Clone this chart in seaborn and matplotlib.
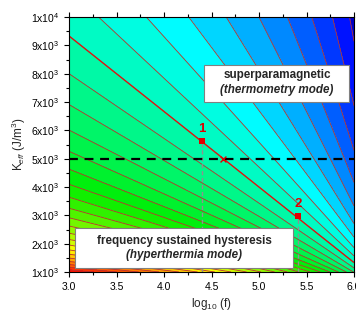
import numpy as np
import matplotlib
matplotlib.use("Agg")
import matplotlib.pyplot as plt
import seaborn as sns
import pandas as pd
from matplotlib.colors import LinearSegmentedColormap, Normalize
from matplotlib.patches import Rectangle

# axes ranges
log_f_lim = [3.0, 6.0]
k_eff_lim = [1e3, 1e4]

# diameter map : contours are straight lines converging at log10(f0)
log_f0 = 6.5
diam_scale = 400.0
diam_levels = [10, 11, 12, 13, 14, 15, 16, 17, 18, 19, 20, 21, 22, 23, 24, 25,
               26, 27, 28, 29, 30, 31, 32, 33, 34, 35, 36, 37, 38, 39, 40]
highlight_level = 19

# marked samples
point_logf = [4.40, 5.41]
point_k = [5620, 2970]
point_names = ["1", "2"]
cross_logf = [4.62]
cross_k = [5000]
threshold_k = 5000

x_ticks = [3.0, 3.5, 4.0, 4.5, 5.0, 5.5, 6.0]
x_ticklabels = ["3.0", "3.5", "4.0", "4.5", "5.0", "5.5", "6.0"]
y_ticks = [1e3, 2e3, 3e3, 4e3, 5e3, 6e3, 7e3, 8e3, 9e3, 1e4]
y_ticklabels = [r"1x10$^3$", r"2x10$^3$", r"3x10$^3$", r"4x10$^3$", r"5x10$^3$",
                r"6x10$^3$", r"7x10$^3$", r"8x10$^3$", r"9x10$^3$", r"1x10$^4$"]

sns.set_style("ticks")
plt.rcParams["font.family"] = ["Liberation Sans", "DejaVu Sans"]
plt.rcParams["mathtext.fontset"] = "custom"
plt.rcParams["mathtext.rm"] = "Liberation Sans"
plt.rcParams["mathtext.it"] = "Liberation Sans:italic"
plt.rcParams["mathtext.bf"] = "Liberation Sans:bold"

fig = plt.figure(figsize=(3.56, 3.11), dpi=100)
ax = fig.add_axes([69 / 356, 1 - 272 / 311, (354 - 69) / 356, (272 - 17) / 311])

# field on a grid
xg = np.linspace(log_f_lim[0], log_f_lim[1], 500)
kg = np.linspace(k_eff_lim[0], k_eff_lim[1], 500)
X, K = np.meshgrid(xg, kg)
D = diam_scale * ((log_f0 - X) / ((log_f0 - log_f_lim[0]) * K)) ** (1 / 3)

span = 40 - 9
cmap = LinearSegmentedColormap.from_list("rainbow_origin", [
    (0.0, "#0000c8"),
    ((10 - 9) / span, "#0000ff"),
    ((16.5 - 9) / span, "#00ffff"),
    ((25 - 9) / span, "#00ee00"),
    ((33 - 9) / span, "#ffff00"),
    (1.0, "#ff0000"),
])
norm = Normalize(9, 40)

ax.contourf(X, K, D, levels=[0] + diam_levels + [100], cmap=cmap, norm=norm)
thin = [l for l in diam_levels if l != highlight_level]
ax.contour(X, K, D, levels=thin, colors="#b83232", linewidths=0.6)
ax.contour(X, K, D, levels=[highlight_level], colors="#e01010", linewidths=1.0)

# threshold line
ax.axhline(threshold_k, color="black", lw=1.6, ls=(0, (4, 3)), zorder=4)

# guide lines from the samples down to the axis
ax.vlines(point_logf, k_eff_lim[0], point_k, colors="#909090", lw=1.0,
          linestyles=(0, (3, 2)), zorder=3)

pts = pd.DataFrame({"logf": point_logf, "k": point_k})
sns.scatterplot(data=pts, x="logf", y="k", ax=ax, color="#e00000", marker="s",
                s=16, edgecolor="none", zorder=6)
ax.scatter(cross_logf, cross_k, marker="x", color="#e00000", s=18, lw=1.0, zorder=6)
for xi, ki, name in zip(point_logf, point_k, point_names):
    ax.text(xi, ki + 230, name, color="#e00000", fontsize=9.5, fontweight="bold",
            ha="center", va="bottom", zorder=7)

# annotation boxes
ax.add_patch(Rectangle((4.42, 6996), 5.95 - 4.42, 8304 - 6996, fc="white",
                       ec="#808080", lw=0.8, zorder=8))
ax.text(5.19, 7950, "superparamagnetic", fontsize=8.4, fontweight="bold",
        ha="center", va="center", zorder=9)
ax.text(5.19, 7420, "(thermometry mode)", fontsize=8.4, fontweight="bold",
        style="italic", ha="center", va="center", zorder=9)

ax.add_patch(Rectangle((3.063, 1131), 5.358 - 3.063, 2544 - 1131, fc="white",
                       ec="#808080", lw=0.8, zorder=8))
ax.text(4.21, 2085, "frequency sustained hysteresis", fontsize=8.4,
        fontweight="bold", ha="center", va="center", zorder=9)
ax.text(4.21, 1590, "(hyperthermia mode)", fontsize=8.4, fontweight="bold",
        style="italic", ha="center", va="center", zorder=9)

ax.set_xlim(log_f_lim)
ax.set_ylim(k_eff_lim)
ax.set_xticks(x_ticks)
ax.set_xticklabels(x_ticklabels)
ax.set_yticks(y_ticks)
ax.set_yticklabels(y_ticklabels)
ax.set_xticks(np.arange(3.25, 6.0, 0.5), minor=True)
ax.set_yticks(np.arange(1500, 10000, 1000), minor=True)
ax.tick_params(which="both", direction="out", top=True, right=False,
               labelsize=7.5, width=0.8, colors="black")
ax.tick_params(which="major", length=3.5)
ax.tick_params(which="minor", length=2)
for s in ax.spines.values():
    s.set_linewidth(0.8)
    s.set_color("black")
    s.set_zorder(10)

ax.set_xlabel(r"log$_{10}$ (f)", fontsize=8.5, labelpad=3)
ax.set_ylabel(r"K$_{eff}$ (J/m$^3$)", fontsize=8.5, labelpad=2)

fig.savefig("out.png", dpi=100)
